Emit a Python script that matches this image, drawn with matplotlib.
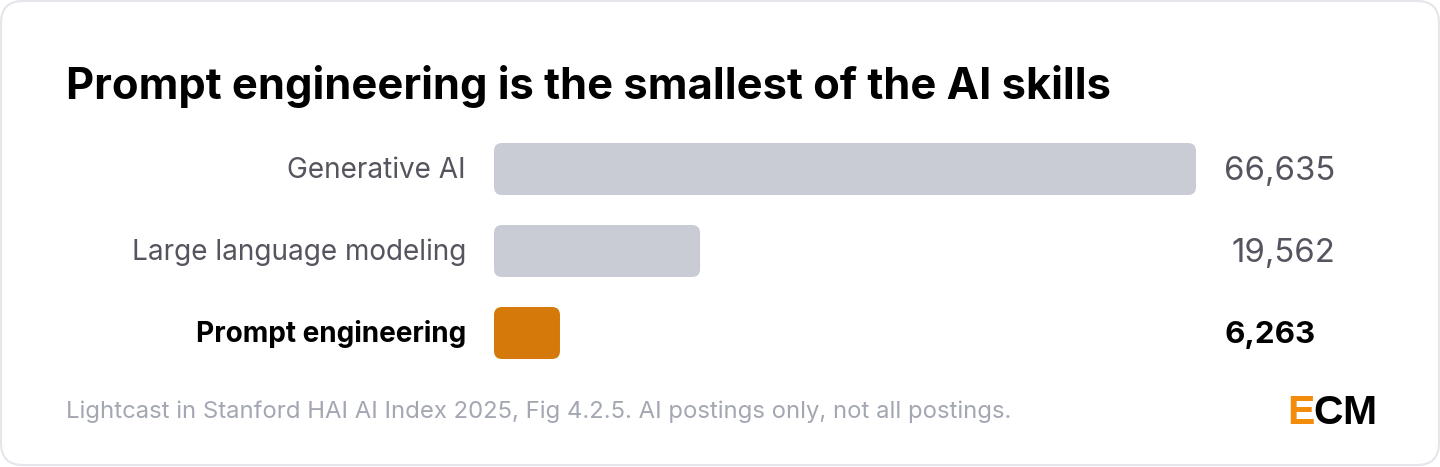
import matplotlib
matplotlib.use("Agg")
import matplotlib.pyplot as plt
from matplotlib.patches import FancyBboxPatch

W, H = 1440, 467
categories = ["Generative AI", "Large language modeling", "Prompt engineering"]
values = [66635, 19562, 6263]
value_labels = ["66,635", "19,562", "6,263"]
title = "Prompt engineering is the smallest of the AI skills"
source = "Lightcast in Stanford HAI AI Index 2025, Fig 4.2.5. AI postings only, not all postings."
GREY, ORANGE = "#c9ccd5", "#d57a0a"
colors = [GREY, GREY, ORANGE]
highlight = "Prompt engineering"

plt.rcParams["font.family"] = ["Inter", "DejaVu Sans"]
fig = plt.figure(figsize=(W / 100, H / 100), dpi=100, facecolor="white")

def fx(px): return px / W
def fy(px): return 1 - px / H

# card
bg = fig.add_axes([0, 0, 1, 1], zorder=0)
bg.set_xlim(0, W); bg.set_ylim(H, 0); bg.axis("off")
bg.add_patch(FancyBboxPatch((1, 1), W - 2, H - 3, boxstyle="round,pad=0,rounding_size=22",
                            fc="white", ec="#e5e6eb", lw=1.5))

# bars
left, right, top, bottom = 494, 1196, 128, 374
ax = fig.add_axes([fx(left), fy(bottom), (right - left) / W, (bottom - top) / H], zorder=1)
ax.patch.set_alpha(0)
ax.set_xlim(0, max(values))
ax.set_ylim(2.5, -0.5)
ax.axis("off")
x_per_px = max(values) / (right - left)
y_per_px = 3 / (bottom - top)
bar_h = 52 * y_per_px
radius_px = 8
for i, (v, c) in enumerate(zip(values, colors)):
    ax.add_patch(FancyBboxPatch((0, i - bar_h / 2), v, bar_h,
                                boxstyle=f"round,pad=0,rounding_size={radius_px * x_per_px}",
                                mutation_aspect=y_per_px / x_per_px, fc=c, ec="none"))
    hi = categories[i] == highlight
    ax.annotate(categories[i], (0, i), xytext=(-28 * .72, -1 * .72), textcoords="offset points",
                ha="right", va="center", fontsize=20.1 if not hi else 20.15,
                fontweight="bold" if hi else "normal", color="#000000" if hi else "#55555f")
    ax.annotate(value_labels[i], (0, i),
                xytext=(((1224 if hi else 1335.5) - left) * .72, -2 * .72), textcoords="offset points",
                ha="left" if hi else "right", va="center", fontsize=23.7 if not hi else 22.6,
                fontweight="bold" if hi else "normal", color="#000000" if hi else "#55555f")

fig.text(fx(66), fy(87), title, fontsize=31.3, fontweight="bold", color="#000000", ha="left", va="center")
fig.text(fx(66), fy(411.5), source, fontsize=17.2, color="#a3a7b2", ha="left", va="center")

# logo
for letter, x, col in [("E", 1287, "#f28c0a"), ("C", 1313.5, "#000000"), ("M", 1342, "#000000")]:
    fig.text(fx(x), fy(424.5), letter, family="Liberation Sans", fontweight="bold", fontsize=29.5,
             color=col, ha="left", va="baseline")

fig.savefig("out.png", dpi=100, facecolor="white")
